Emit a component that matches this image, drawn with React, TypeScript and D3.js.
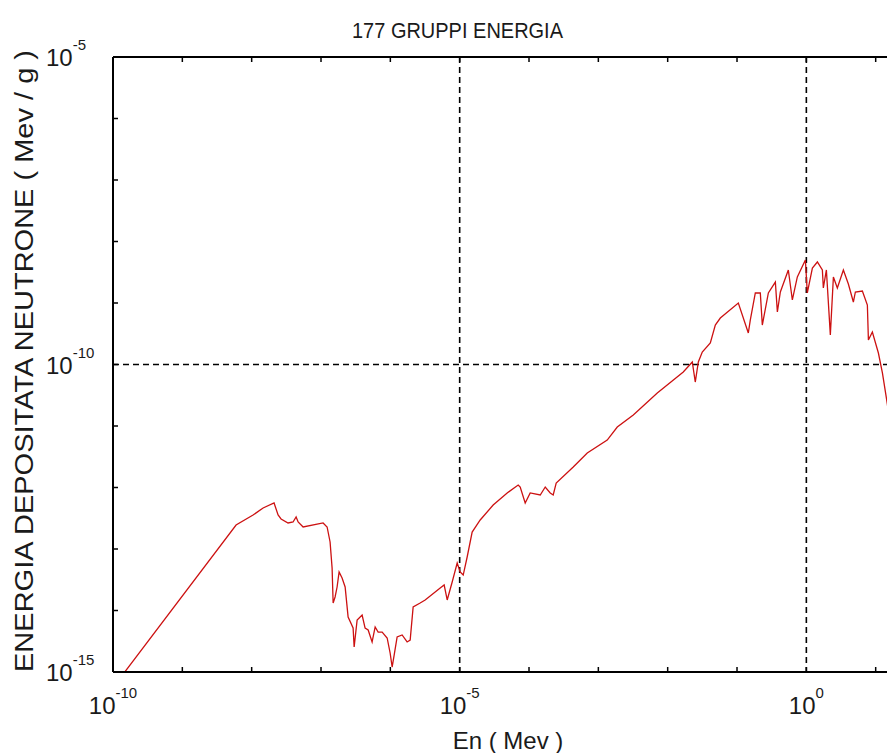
import React from "react";
import * as d3 from "d3";

// Data: log10 of energy (MeV) and log10 of deposited energy (MeV/g)
const energyExp = [
  -9.841, -8.225, -7.98, -7.835, -7.677, -7.619, -7.576, -7.475, -7.403, -7.359,
  -7.33, -7.258, -6.97, -6.912, -6.869, -6.84, -6.825, -6.797, -6.768, -6.739,
  -6.696, -6.652, -6.609, -6.537, -6.522, -6.479, -6.407, -6.364, -6.32, -6.263,
  -6.219, -6.176, -6.118, -6.046, -6.003, -5.974, -5.945, -5.902, -5.83, -5.758,
  -5.714, -5.671, -5.57, -5.498, -5.281, -5.224, -5.18, -5.108, -5.036, -4.993,
  -4.949, -4.892, -4.82, -4.704, -4.517, -4.315, -4.156, -4.127, -4.055, -3.983,
  -3.838, -3.766, -3.694, -3.651, -3.608, -3.362, -3.16, -2.872, -2.727, -2.496,
  -2.15, -1.775, -1.645, -1.602, -1.558, -1.501, -1.385, -1.313, -1.241, -0.981,
  -0.837, -0.808, -0.736, -0.664, -0.635, -0.548, -0.447, -0.418, -0.375, -0.26,
  -0.202, -0.13, -0.014, 0.014, 0.087, 0.159, 0.231, 0.245, 0.289, 0.346,
  0.39, 0.447, 0.534, 0.606, 0.678, 0.707, 0.808, 0.88, 0.895, 0.952,
  1.039, 1.097, 1.169, 1.284,
];
const doseExp = [
  -15.016, -12.61, -12.447, -12.333, -12.252, -12.447, -12.512, -12.577, -12.561, -12.48,
  -12.561, -12.642, -12.577, -12.642, -12.886, -13.309, -13.878, -13.78, -13.618, -13.374,
  -13.472, -13.618, -14.106, -14.285, -14.593, -14.154, -14.073, -14.285, -14.317, -14.512,
  -14.268, -14.35, -14.35, -14.447, -14.691, -14.919, -14.724, -14.431, -14.398, -14.512,
  -14.48, -13.943, -13.878, -13.829, -13.634, -13.585, -13.829, -13.537, -13.228, -13.374,
  -13.423, -13.13, -12.724, -12.528, -12.285, -12.089, -11.959, -11.992, -12.252, -12.089,
  -12.122, -11.992, -12.089, -12.122, -11.927, -11.667, -11.439, -11.228, -11.016, -10.821,
  -10.463, -10.122, -9.959, -10.285, -9.959, -9.797, -9.65, -9.358, -9.244, -9.0,
  -9.488, -9.276, -8.837, -8.837, -9.358, -8.837, -8.659, -9.146, -8.821, -8.463,
  -8.951, -8.577, -8.301, -8.837, -8.431, -8.333, -8.463, -8.756, -8.463, -9.52,
  -8.577, -8.756, -8.463, -8.691, -8.984, -8.821, -8.805, -9.033, -9.602, -9.472,
  -9.813, -10.138, -10.65, -11.715,
];

const xDecades = [-10, -9, -8, -7, -6, -5, -4, -3, -2, -1, 0, 1];
const xLabelled = [-10, -5, 0];
const yDecades = [-15, -14, -13, -12, -11, -10, -9, -8, -7, -6, -5];
const yLabelled = [-15, -10, -5];
const xGrid = [-5, 0];
const yGrid = [-10];

const title = "177 GRUPPI ENERGIA";
const xTitle = "En ( Mev )";
const yTitle = "ENERGIA DEPOSITATA NEUTRONE  ( Mev / g )";

const W = 887;
const H = 753;
const left = 113;
const right = 896;
const top = 57;
const bottom = 672;
const font = "Arial, 'Liberation Sans', sans-serif";
const ink = "#1a1a1a";

export default function App() {
  const x = d3.scaleLog().domain([1e-10, Math.pow(10, 1.293)]).range([left, right]);
  const y = d3.scaleLog().domain([1e-15, 1e-5]).range([bottom, top]);
  const data = energyExp.map((e, i) => ({ E: Math.pow(10, e), D: Math.pow(10, doseExp[i]) }));
  const line = d3
    .line<{ E: number; D: number }>()
    .x((d) => x(d.E))
    .y((d) => y(d.D));

  return (
    <svg width={W} height={H} style={{ position: "absolute", left: 0, top: 0, background: "#fff" }}>
      <defs>
        <clipPath id="plotClip">
          <rect x={left} y={top} width={right - left} height={bottom - top} />
        </clipPath>
      </defs>
      <rect x={0} y={0} width={W} height={H} fill="#fff" />

      {/* grid */}
      {xGrid.map((e) => (
        <line key={"gx" + e} x1={x(Math.pow(10, e))} x2={x(Math.pow(10, e))} y1={top} y2={bottom}
          stroke="#000" strokeWidth={1.6} strokeDasharray="6,4" />
      ))}
      {yGrid.map((e) => (
        <line key={"gy" + e} x1={left} x2={right} y1={y(Math.pow(10, e))} y2={y(Math.pow(10, e))}
          stroke="#000" strokeWidth={1.6} strokeDasharray="6,4" />
      ))}

      {/* curve */}
      <path d={line(data) || ""} fill="none" stroke="#cc1111" strokeWidth={1.3} clipPath="url(#plotClip)" />

      {/* frame */}
      <line x1={left} x2={right} y1={top} y2={top} stroke="#000" strokeWidth={2} />
      <line x1={left} x2={right} y1={bottom} y2={bottom} stroke="#000" strokeWidth={2} />
      <line x1={left} x2={left} y1={top} y2={bottom} stroke="#000" strokeWidth={2} />
      <line x1={right} x2={right} y1={top} y2={bottom} stroke="#000" strokeWidth={2} />

      {/* ticks */}
      {xDecades.map((e) => {
        const px = x(Math.pow(10, e));
        return (
          <g key={"tx" + e}>
            <line x1={px} x2={px} y1={bottom} y2={bottom - 5} stroke="#000" strokeWidth={1.5} />
            <line x1={px} x2={px} y1={top} y2={top + 5} stroke="#000" strokeWidth={1.5} />
          </g>
        );
      })}
      {yDecades.map((e) => {
        const py = y(Math.pow(10, e));
        return <line key={"ty" + e} x1={left} x2={left + 5} y1={py} y2={py} stroke="#000" strokeWidth={1.5} />;
      })}

      {/* x tick labels */}
      {xLabelled.map((e) => (
        <text key={"lx" + e} x={x(Math.pow(10, e))} y={714} textAnchor="middle" fontFamily={font} fontSize={24} fill={ink}>
          10
          <tspan fontSize={15} dy={-16}>{String(e)}</tspan>
        </text>
      ))}

      {/* y tick labels */}
      {yLabelled.map((e) => (
        <text key={"ly" + e} x={46} y={y(Math.pow(10, e)) + 9} textAnchor="start" fontFamily={font} fontSize={24} fill={ink}>
          10
          <tspan fontSize={15} dy={-16}>{String(e)}</tspan>
        </text>
      ))}

      {/* titles */}
      <text x={352} y={38} fontFamily={font} fontSize={22} textLength={211} lengthAdjust="spacingAndGlyphs" fill={ink}>
        {title}
      </text>
      <text x={508} y={749} textAnchor="middle" fontFamily={font} fontSize={24} fill={ink}>
        {xTitle}
      </text>
      <text transform={`translate(33,672) rotate(-90)`} fontFamily={font} fontSize={25} textLength={622}
        lengthAdjust="spacingAndGlyphs" fill={ink}>
        {yTitle}
      </text>
    </svg>
  );
}
